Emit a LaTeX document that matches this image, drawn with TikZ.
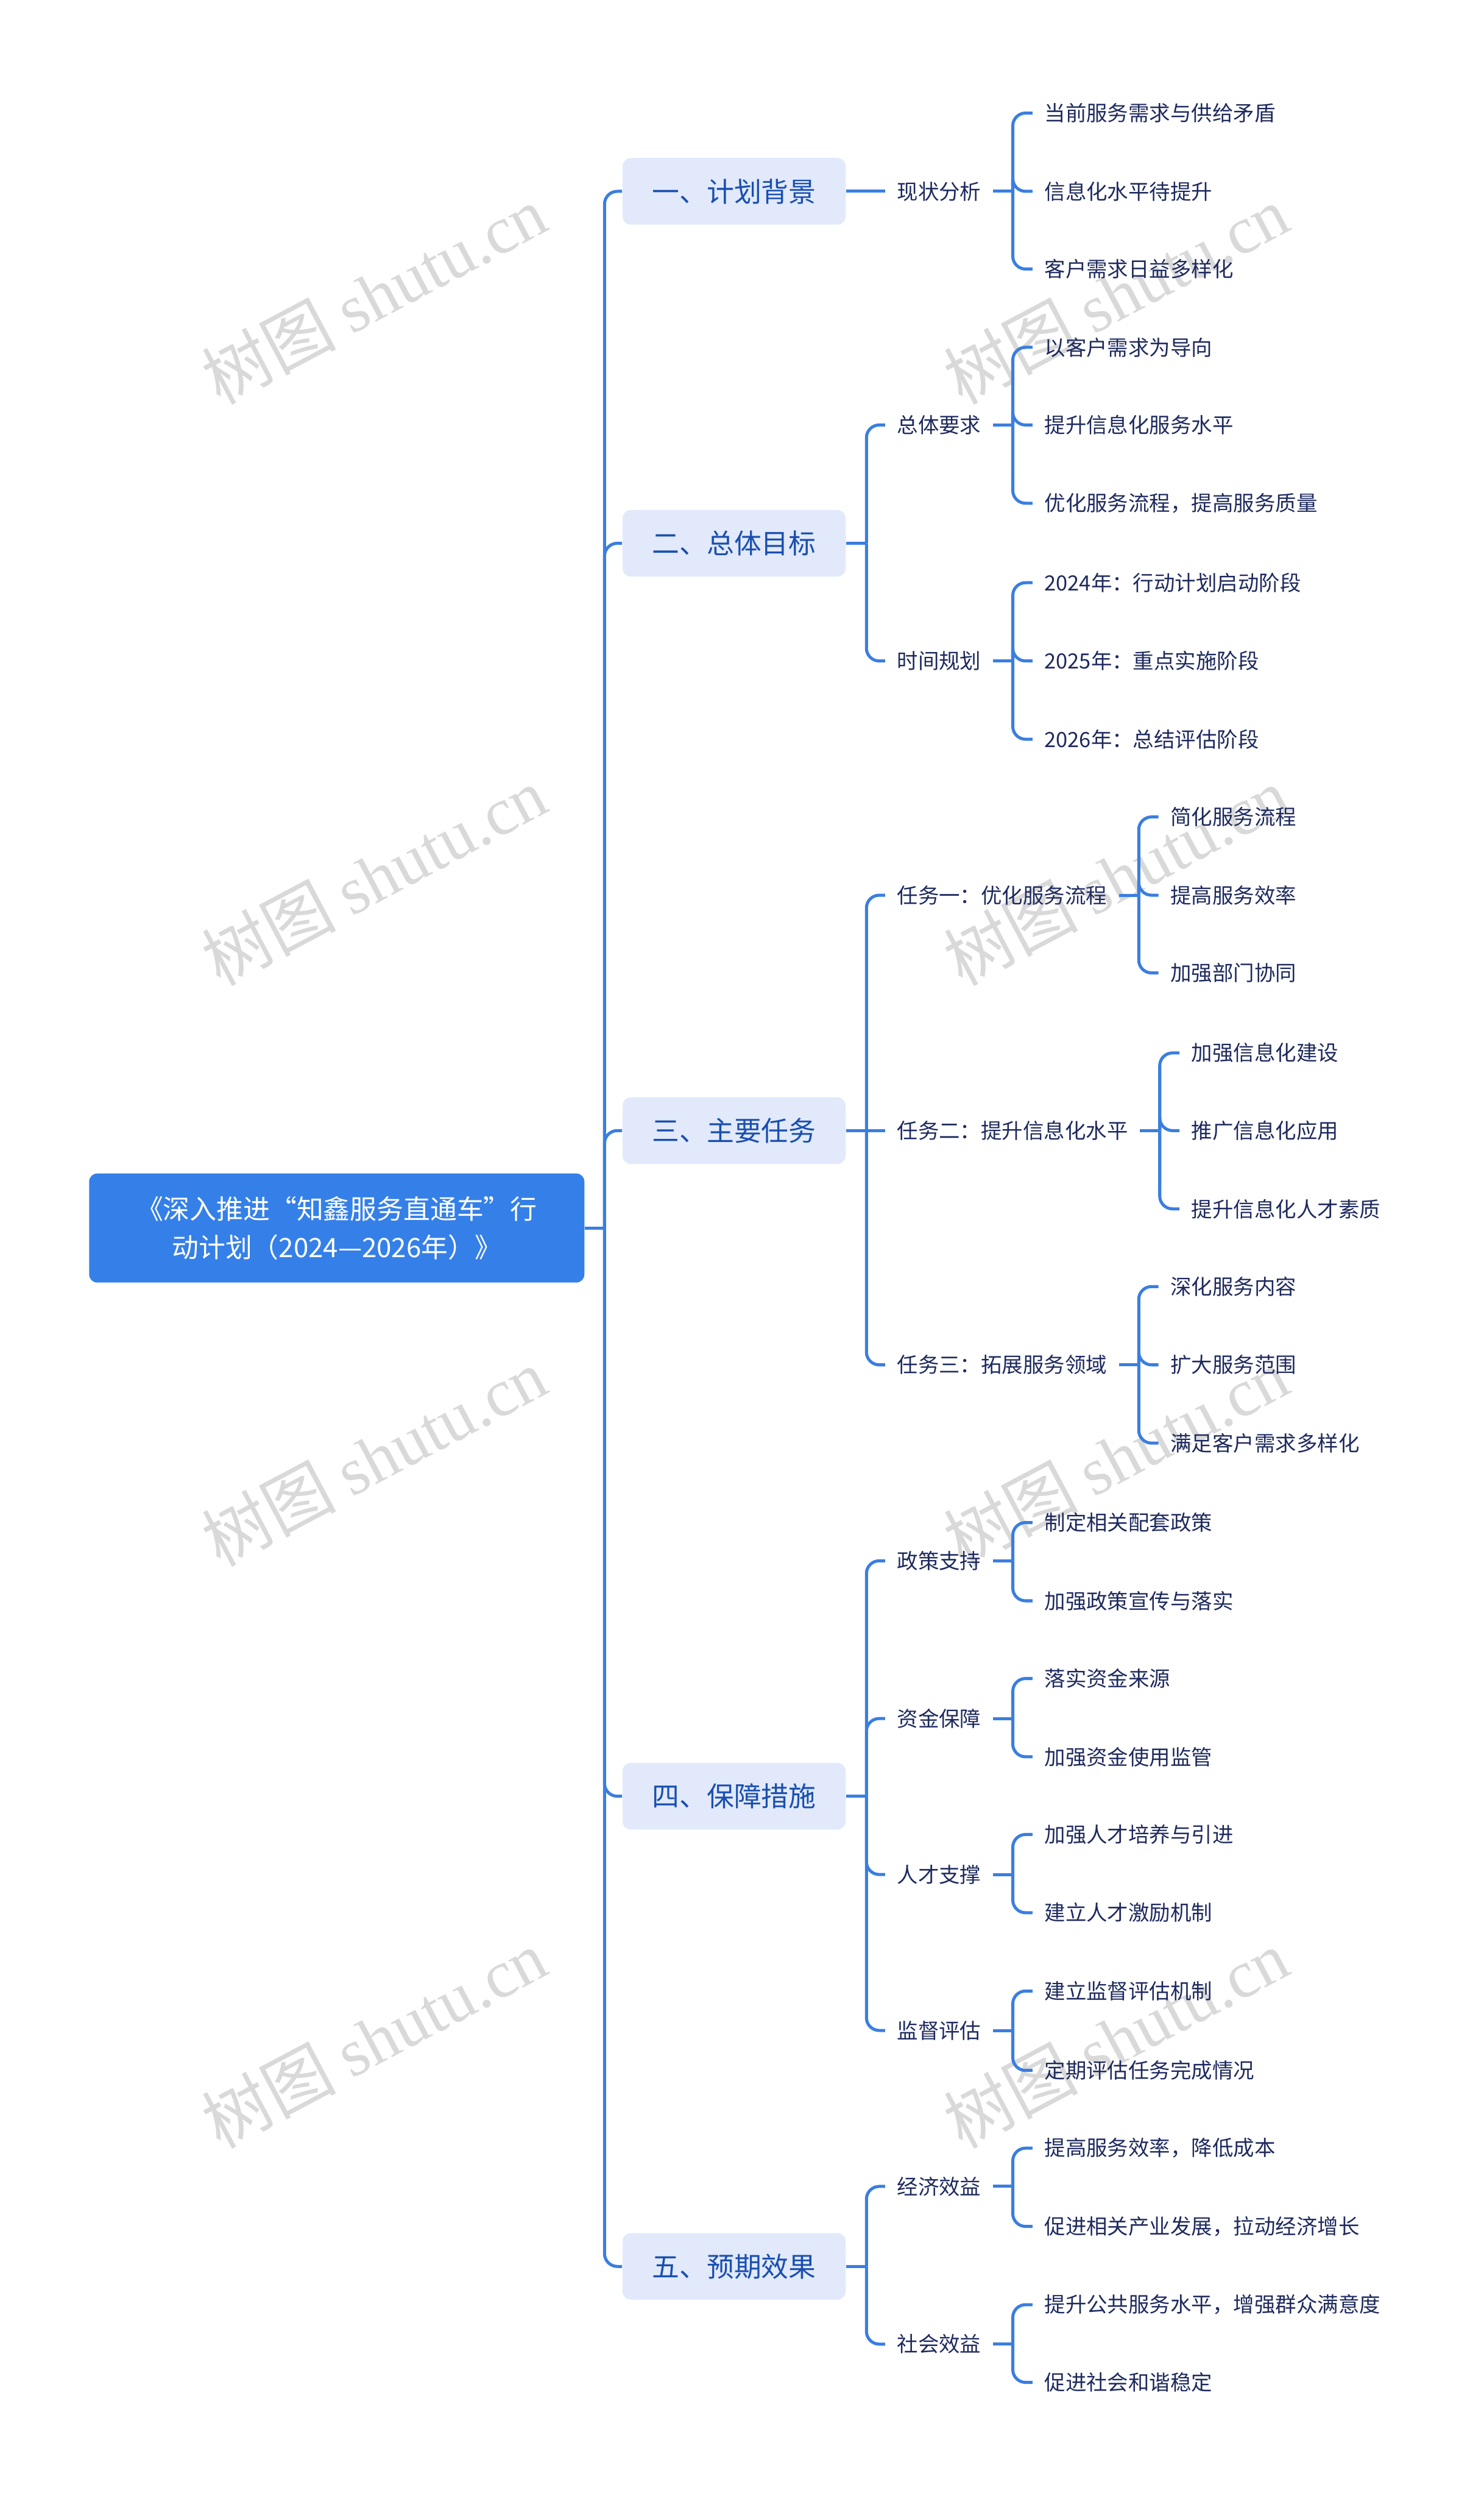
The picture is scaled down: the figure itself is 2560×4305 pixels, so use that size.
\documentclass[tikz,border=0pt]{standalone}
\usepackage{fontspec}
\setmainfont{Noto Sans CJK SC}
\newfontfamily\wmlatin{Liberation Serif}
\usetikzlibrary{calc}
\definecolor{rootblue}{HTML}{3580E8}
\definecolor{lvlfill}{HTML}{E1E9FB}
\definecolor{lvltext}{HTML}{1A4FAF}
\definecolor{linec}{HTML}{3A7EE0}
\definecolor{txt}{HTML}{1E2A5E}
\definecolor{wm}{HTML}{D9D9D9}
\begin{document}
\begin{tikzpicture}[x=0.01cm,y=-0.01cm,
 rootbox/.style={fill=rootblue, rounded corners=0.14cm, minimum width=8.54cm, minimum height=1.88cm, text=white, font=\fontsize{13.1}{18.8}\selectfont, align=center, inner sep=0pt},
 lvlbox/.style={fill=lvlfill, rounded corners=0.15cm, minimum width=3.85cm, minimum height=1.15cm, text=lvltext, font=\fontsize{13.4}{16}\selectfont, inner sep=0pt},
 subnode/.style={text=txt, font=\fontsize{10.3}{12}\selectfont, inner xsep=0.2cm, inner ysep=0.05cm, anchor=west},
 leafnode/.style={subnode},
 conn/.style={draw=linec, line width=1.5pt},
 elbow/.style={conn, rounded corners=0.22cm},
 wmark/.style={text=wm, rotate=28, font=\fontsize{33}{36}\selectfont, inner sep=0pt}
]
\useasboundingbox (0,0) rectangle (2560,4305);
% watermarks
\foreach \wy [count=\k] in {508,1511,2513,3516}{
  \node[wmark] (wl\k) at (645,\wy) {树图 {\wmlatin shutu.cn}};
  \node[wmark] (wr\k) at (1925,\wy) {树图 {\wmlatin shutu.cn}};
}
% root
\node[rootbox] (root) at (581,2118) {《深入推进“知鑫服务直通车”行\\动计划（2024—2026年）》};
\coordinate (rj) at ($(root.east)+(34,0)$);
\draw[conn] (root.east) -- (rj);
% level 1
\node[lvlbox] (L1) at (1266.5,330) {一、计划背景};
\node[lvlbox] (L2) at (1266.5,937) {二、总体目标};
\node[lvlbox] (L3) at (1266.5,1950) {三、主要任务};
\node[lvlbox] (L4) at (1266.5,3098) {四、保障措施};
\node[lvlbox] (L5) at (1266.5,3909) {五、预期效果};
\foreach \n in {L1,L2,L3,L4,L5}{
  \draw[elbow] (rj) |- (\n.west);
  \coordinate (\n-j) at ($(\n.east)+(35,0)$);
  \draw[conn] (\n.east) -- (\n-j);
}
% level 2
\node[subnode] (a1) at (1527,330) {现状分析};
\node[subnode] (b1) at (1527,733) {总体要求};
\node[subnode] (b2) at (1527,1140) {时间规划};
\node[subnode] (c1) at (1527,1544) {任务一：优化服务流程};
\node[subnode] (c2) at (1527,1950) {任务二：提升信息化水平};
\node[subnode] (c3) at (1527,2354) {任务三：拓展服务领域};
\node[subnode] (d1) at (1527,2692) {政策支持};
\node[subnode] (d2) at (1527,2964) {资金保障};
\node[subnode] (d3) at (1527,3233) {人才支撑};
\node[subnode] (d4) at (1527,3502) {监督评估};
\node[subnode] (e1) at (1527,3771) {经济效益};
\node[subnode] (e2) at (1527,4043) {社会效益};
\draw[conn] (L1-j) -- (a1.west);
\draw[conn] (L3-j) -- (c2.west);
\foreach \p/\c in {L2/b1,L2/b2,L3/c1,L3/c3,L4/d1,L4/d2,L4/d3,L4/d4,L5/e1,L5/e2}{
  \draw[elbow] (\p-j) |- (\c.west);
}
% leaves
\foreach \p/\items in {
 a1/{195/当前服务需求与供给矛盾,330/信息化水平待提升,464/客户需求日益多样化},
 b1/{599/以客户需求为导向,733/提升信息化服务水平,868/优化服务流程，提高服务质量},
 b2/{1005/2024年：行动计划启动阶段,1140/2025年：重点实施阶段,1275/2026年：总结评估阶段},
 c1/{1409/简化服务流程,1544/提高服务效率,1678/加强部门协同},
 c2/{1816/加强信息化建设,1950/推广信息化应用,2085/提升信息化人才素质},
 c3/{2219/深化服务内容,2354/扩大服务范围,2489/满足客户需求多样化},
 d1/{2626/制定相关配套政策,2761/加强政策宣传与落实},
 d2/{2895/落实资金来源,3030/加强资金使用监管},
 d3/{3164/加强人才培养与引进,3299/建立人才激励机制},
 d4/{3434/建立监督评估机制,3571/定期评估任务完成情况},
 e1/{3705/提高服务效率，降低成本,3840/促进相关产业发展，拉动经济增长},
 e2/{3975/提升公共服务水平，增强群众满意度,4109/促进社会和谐稳定}}{
  \coordinate (\p-j) at ($(\p.east)+(34,0)$);
  \coordinate (\p-l) at ($(\p.east)+(68,0)$);
  \draw[conn] (\p.east) -- (\p-j);
  \foreach \yy/\tt [count=\i] in \items {
    \node[leafnode] (\p-\i) at (\p-l |- 0,\yy) {\tt};
    \draw[elbow] (\p-j) |- (\p-\i.west);
  }
}
\end{tikzpicture}
\end{document}
